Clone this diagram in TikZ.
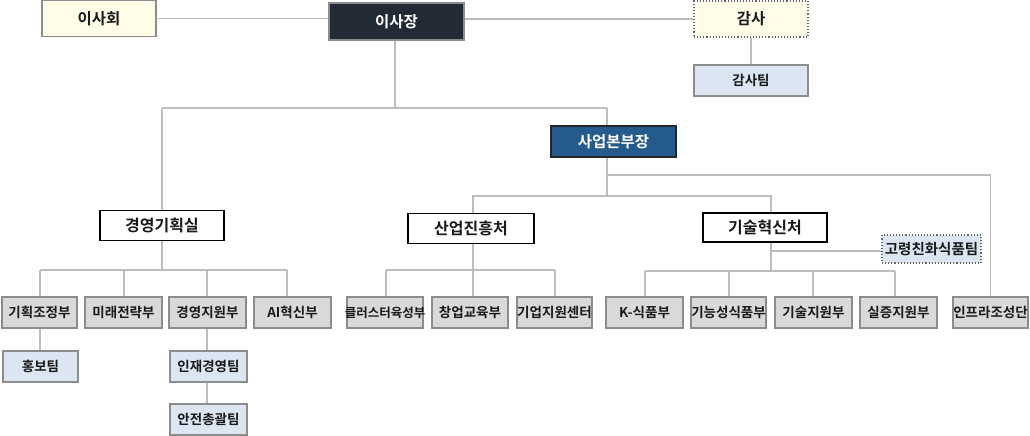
\documentclass[tikz,border=0pt]{standalone}
\usepackage{fontspec}
\setmainfont{Noto Sans CJK KR}[BoldFont={Noto Sans CJK KR Bold}]
\definecolor{lineg}{HTML}{BDBDBD}
\definecolor{boxg}{HTML}{8C8C8C}
\definecolor{yel}{HTML}{FFFCE8}
\definecolor{navy}{HTML}{222A36}
\definecolor{blu}{HTML}{245A8C}
\definecolor{lblu}{HTML}{DCE6F2}
\definecolor{grayf}{HTML}{D9D9D9}
\definecolor{txt}{HTML}{1A1A1A}
\tikzset{
  base/.style={draw=boxg, line width=1.1pt, inner sep=0pt, font=\bfseries\fontsize{13.5}{13.5}\selectfont, text=txt},
  topbox/.style={base, minimum width=114pt, minimum height=36pt, fill=yel, font=\bfseries\fontsize{15.5}{15.5}\selectfont},
  chief/.style={base, fill=navy, text=white, minimum width=135pt, minimum height=37pt, font=\bfseries\fontsize{15.5}{15.5}\selectfont},
  vice/.style={base, draw=black!85, fill=blu, text=white, minimum width=125pt, minimum height=31pt, font=\bfseries\fontsize{15.5}{15.5}\selectfont},
  office/.style={base, draw=black, line width=1.5pt, fill=white, minimum width=124pt, minimum height=30pt, font=\bfseries\fontsize{16}{16}\selectfont},
  dept/.style={base, fill=grayf, minimum width=76pt, minimum height=31pt, font=\bfseries\fontsize{13.5}{13.5}\selectfont},
  team/.style={base, fill=lblu, minimum width=76pt, minimum height=31pt, font=\bfseries\fontsize{13.5}{13.5}\selectfont},
  dotbox/.style={draw=black!60, dotted, line width=1.1pt},
  conn/.style={draw=lineg, line width=1.3pt}
}
\begin{document}
\begin{tikzpicture}[x=1pt, y=-1pt]
\useasboundingbox (0,0) rectangle (1030,436);
\node[topbox] (isahoe) at (99,18.5) {이사회};
\node[chief] (isajang) at (396.5,21.5) {이사장};
\node[topbox, dotbox] (gamsa) at (751,19) {감사};
\node[team, minimum width=114pt, minimum height=31pt] (gamsatim) at (751,80.5) {감사팀};
\node[vice] (saup) at (613.5,141.5) {사업본부장};
\node[office] (gyeong) at (162,225.5) {경영기획실};
\node[office, minimum width=126pt] (saneop) at (471,228.5) {산업진흥처};
\node[office, minimum height=29pt] (gisul) at (765,227.5) {기술혁신처};
\node[team, dotbox, minimum width=99pt, minimum height=28pt, font=\bfseries\fontsize{14.5}{14.5}\selectfont] (goryeong) at (931.5,249) {\makebox[0pt][c]{고령친화식품팀}};
% departments
\node[dept, minimum width=75pt] (gihoek) at (39.5,312.5) {기획조정부};
\node[dept, minimum width=77pt] (mirae) at (123.5,312.5) {미래전략부};
\node[dept, minimum width=77pt] (gyeongji) at (207.5,312.5) {경영지원부};
\node[dept, minimum width=77pt] (ai) at (292.5,312.5) {AI혁신부};
\node[dept] (cluster) at (385,312.5) {\makebox[0pt][c]{\fontsize{12.5}{12.5}\selectfont 클러스터육성부}};
\node[dept] (changup) at (470,312.5) {창업교육부};
\node[dept, minimum width=75pt] (gieop) at (554.5,312.5) {\makebox[0pt][c]{기업지원센터}};
\node[dept, minimum width=77pt] (kfood) at (644.5,312.5) {K-식품부};
\node[dept, minimum width=75pt] (gineung) at (728.5,312.5) {\makebox[0pt][c]{기능성식품부}};
\node[dept, minimum width=77pt] (gisulji) at (813.5,312.5) {기술지원부};
\node[dept, minimum width=77pt] (siljeung) at (898.5,312.5) {실증지원부};
\node[dept, minimum width=75pt] (infra) at (990.5,312.5) {\makebox[0pt][c]{인프라조성단}};
% teams
\node[team, minimum width=75pt] (hongbo) at (40.5,366.5) {홍보팀};
\node[team, minimum width=77pt] (injae) at (208.5,366.5) {인재경영팀};
\node[team, minimum width=77pt] (anjeon) at (208.5,419.5) {안전총괄팀};
% junction coordinates
\coordinate (j1) at (162,108);
\coordinate (j2) at (607,108);
\coordinate (j3) at (607,175);
\coordinate (j4) at (607,196);
\coordinate (g1) at (162,270);
\coordinate (s1) at (473,270);
\coordinate (t1) at (771,271);
\coordinate (t2) at (771,251);
% connectors
\draw[conn] (isahoe.east) -- (isajang.west |- isahoe.east);
\draw[conn] (isajang.east |- gamsa.west) -- (gamsa.west);
\draw[conn] (gamsa.south) -- (gamsatim.north);
\draw[conn] (isajang.south -| 395,0) -- (395,108);
\draw[conn] (j1) -- (j2);
\draw[conn] (j1) -- (gyeong.north);
\draw[conn] (j2) -- (saup.north -| j2);
\draw[conn] (saup.south -| j2) -- (j4);
\draw[conn] (j3) -| (infra.north);
\draw[conn] (saneop.north -| s1) |- (j4) -| (gisul.north -| t1);
% 경영기획실
\draw[conn] (gyeong.south) -- (g1);
\draw[conn] (40,270) -- (287,270);
\draw[conn] (gihoek.north -| 40,0) -- (40,270);
\draw[conn] (mirae.north -| 124,0) -- (124,270);
\draw[conn] (gyeongji.north -| 207,0) -- (207,270);
\draw[conn] (ai.north -| 287,0) -- (287,270);
\draw[conn] (gihoek.south -| 40,0) -- (hongbo.north -| 40,0);
\draw[conn] (gyeongji.south -| 207,0) -- (injae.north -| 207,0);
\draw[conn] (injae.south -| 207,0) -- (anjeon.north -| 207,0);
% 산업진흥처
\draw[conn] (saneop.south -| s1) -- (s1);
\draw[conn] (386,270) -- (555,270);
\draw[conn] (cluster.north -| 386,0) -- (386,270);
\draw[conn] (changup.north -| 473,0) -- (473,270);
\draw[conn] (gieop.north -| 555,0) -- (555,270);
% 기술혁신처
\draw[conn] (gisul.south -| t1) -- (t1);
\draw[conn] (t2) -- (goryeong.west |- t2);
\draw[conn] (645,271) -- (895,271);
\draw[conn] (kfood.north -| 645,0) -- (645,271);
\draw[conn] (gineung.north -| 729,0) -- (729,271);
\draw[conn] (gisulji.north -| 813,0) -- (813,271);
\draw[conn] (siljeung.north -| 895,0) -- (895,271);
\end{tikzpicture}
\end{document}
